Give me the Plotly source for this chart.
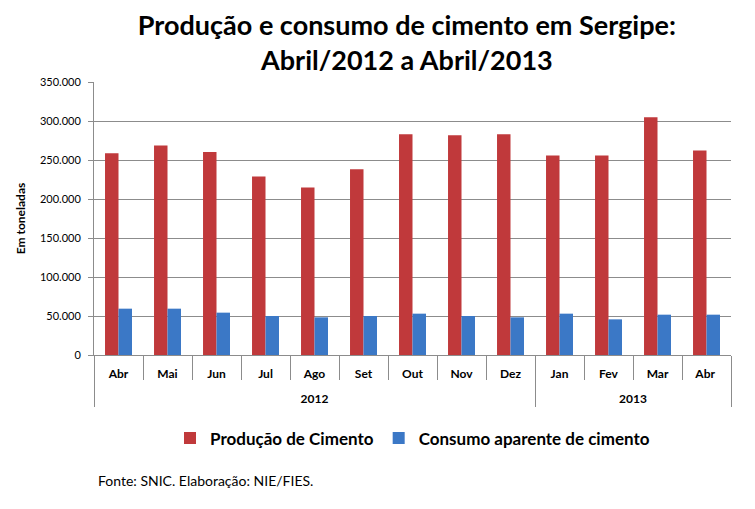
import plotly.graph_objects as go

# Dados (toneladas)
anos = ["2012"] * 9 + ["2013"] * 4
meses = ["Abr", "Mai", "Jun", "Jul", "Ago", "Set", "Out", "Nov", "Dez",
         "Jan", "Fev", "Mar", "Abr "]  # espaco final: Abr/2013 distinto de Abr/2012
producao = [258500, 268700, 260100, 228900, 214800, 238300, 282900,
            281600, 282900, 255900, 255900, 304700, 262300]
consumo = [59400, 59400, 54300, 50000, 48300, 50000, 53000,
           50000, 48300, 53000, 45700, 51700, 51700]

FONT = "Lato"
GRID = "#8C8C8C"

# linha vazia abaixo do mes para afastar a linha do ano
rotulos = [m + "<br> " for m in meses]

fig = go.Figure()
fig.add_trace(go.Bar(
    x=[anos, rotulos], y=producao, name="Produção de Cimento",
    marker=dict(color="#C0393B", line=dict(width=0)),
))
fig.add_trace(go.Bar(
    x=[anos, rotulos], y=consumo, name="Consumo aparente de cimento",
    marker=dict(color="#3B78C6", line=dict(width=0)),
))

# a pagina tem 8px de margem no body
fig.update_layout(
    width=747, height=501,
    margin=dict(l=86, r=24, t=74, b=154),
    paper_bgcolor="white", plot_bgcolor="white",
    separators=",.",
    barmode="group", bargap=0.45, bargroupgap=0,
    font=dict(family=FONT, color="black"),
    title=dict(
        text="<b>Produção e consumo de cimento em Sergipe:<br>Abril/2012 a Abril/2013</b>",
        x=0.534, xanchor="center", y=0.946, yanchor="top",
        font=dict(size=27, family=FONT, color="black"),
    ),
    showlegend=True,
    legend=dict(
        orientation="h", x=0.5, xanchor="center", y=-0.24, yanchor="top",
        font=dict(size=17, family=FONT, weight="bold"), traceorder="normal",
    ),
    annotations=[dict(
        text="Fonte: SNIC. Elaboração: NIE/FIES.",
        xref="paper", yref="paper", x=0.003, y=-0.46,
        xanchor="left", yanchor="middle", showarrow=False,
        font=dict(size=14, family=FONT),
    )],
)

fig.update_yaxes(
    range=[0, 350000], dtick=50000, tickformat=",.0f",
    showgrid=True, gridcolor=GRID, gridwidth=1,
    showline=True, linecolor=GRID, linewidth=1,
    ticks="outside", ticklen=5, tickcolor=GRID, ticklabelstandoff=5,
    tickfont=dict(size=11, family=FONT),
    title=dict(text="<b>Em toneladas</b>", font=dict(size=12, family=FONT), standoff=11),
    zeroline=False,
)
fig.update_xaxes(
    type="multicategory",
    showline=True, linecolor=GRID, linewidth=1,
    ticks="outside", ticklen=24, tickcolor=GRID, tickson="boundaries",
    ticklabelstandoff=8,
    showdividers=True, dividercolor=GRID, dividerwidth=1,
    tickfont=dict(size=12, family=FONT, weight="bold"),
)

fig.write_html("out.html")
